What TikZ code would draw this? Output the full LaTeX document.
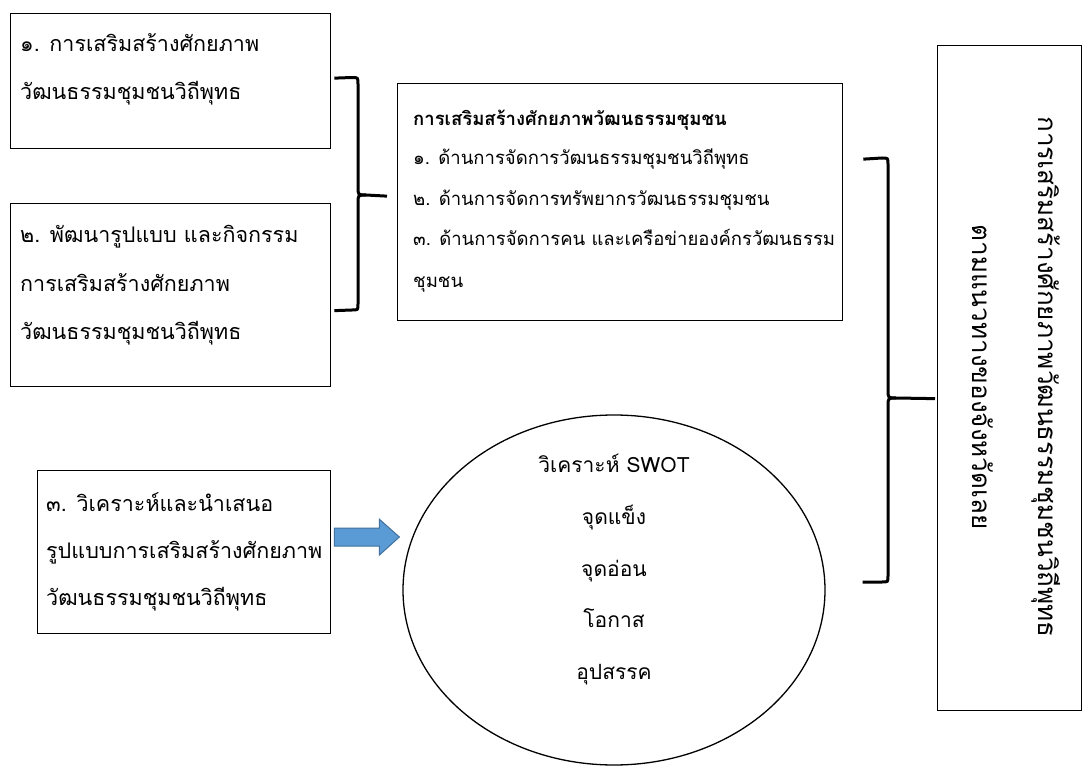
\documentclass[tikz,border=0pt]{standalone}
\usepackage{fontspec}
\setmainfont[Script=Thai]{Loma}
\usetikzlibrary{calc,shapes.geometric}
\tikzset{
  box/.style={draw=black, line width=1.3pt, anchor=north west, inner sep=0pt},
  txt/.style={anchor=west, inner sep=0pt, text height=16pt, text depth=6pt, font=\fontsize{21.5}{24}\selectfont},
  midtxt/.style={anchor=west, inner sep=0pt, text height=14pt, text depth=5pt, font=\fontsize{18.5}{22}\selectfont},
  elltxt/.style={anchor=center, inner sep=0pt, text height=16pt, text depth=6pt, font=\fontsize{21}{24}\selectfont},
  vtxt/.style={anchor=center, inner sep=0pt, rotate=-90, font=\fontsize{26}{30}\selectfont},
  brace/.style={draw=black, line width=3pt},
  bluearrow/.style={fill=arrowblue, draw=arrowedge, line width=1pt},
}
\definecolor{arrowblue}{HTML}{5B9BD5}
\definecolor{arrowedge}{HTML}{41719C}
\begin{document}
\begin{tikzpicture}[x=1pt,y=-1pt]
\useasboundingbox[fill=white] (0,0) rectangle (1082,767);

% boxes
\node[box, minimum width=320pt, minimum height=135pt] (b1) at (10,13) {};
\node[box, minimum width=320pt, minimum height=183pt] (b2) at (10,203) {};
\node[box, minimum width=293pt, minimum height=163pt] (b3) at (37,470) {};
\node[box, minimum width=445pt, minimum height=237pt] (mid) at (397,83) {};
\node[box, minimum width=144pt, minimum height=665pt] (rb) at (937,45) {};
\node[draw=black, line width=1.3pt, ellipse, minimum width=422pt, minimum height=350pt, inner sep=0pt] (ell) at (614,590) {};

% box texts
\node[txt] (t11) at (20,47) {๑. การเสริมสร้างศักยภาพ};
\node[txt] (t12) at (20,95) {วัฒนธรรมชุมชนวิถีพุทธ};
\node[txt] (t21) at (20,238) {๒. พัฒนารูปแบบ และกิจกรรม};
\node[txt] (t22) at (20,287) {การเสริมสร้างศักยภาพ};
\node[txt] (t23) at (20,335) {วัฒนธรรมชุมชนวิถีพุทธ};
\node[txt] (t31) at (46,506) {๓. วิเคราะห์และนำเสนอ};
\node[txt] (t32) at (46,553) {รูปแบบการเสริมสร้างศักยภาพ};
\node[txt] (t33) at (46,600) {วัฒนธรรมชุมชนวิถีพุทธ};

% middle box texts
\node[midtxt, font=\fontsize{18.5}{22}\selectfont\bfseries] (m0) at (413,121) {การเสริมสร้างศักยภาพวัฒนธรรมชุมชน};
\node[midtxt] (m1) at (413,160) {๑. ด้านการจัดการวัฒนธรรมชุมชนวิถีพุทธ};
\node[midtxt] (m2) at (413,201) {๒. ด้านการจัดการทรัพยากรวัฒนธรรมชุมชน};
\node[midtxt] (m3) at (413,241) {๓. ด้านการจัดการคน และเครือข่ายองค์กรวัฒนธรรม};
\node[midtxt] (m4) at (413,283) {ชุมชน};

% ellipse texts
\node[elltxt] (e1) at (614,467) {วิเคราะห์ SWOT};
\node[elltxt] (e2) at (614,519) {จุดแข็ง};
\node[elltxt] (e3) at (614,571) {จุดอ่อน};
\node[elltxt] (e4) at (614,622) {โอกาส};
\node[elltxt] (e5) at (614,674) {อุปสรรค};

% vertical texts in right box
\node[vtxt] (v1) at (1046,377) {การเสริมสร้างศักยภาพวัฒนธรรมชุมชนวิถีพุทธ};
\node[vtxt] (v2) at (983,377) {ตามแนวทางของจังหวัดเลย};

% brace 1 (boxes 1,2 -> middle box)
\draw[brace] ($(b1.east)+(3,-3)$) -- (352,77.5) .. controls (358,77.5) .. (358,84)
  -- (358,187) .. controls (358,195) .. (366,195) -- ($(mid.west)+(-10,-6)$);
\draw[brace] (366,195) .. controls (358,195) .. (358,203) -- (358,304)
  .. controls (358,310) .. (352,310) -- ($(b2.east)+(3,15.5)$);

% brace 2 (middle box, ellipse -> right box)
\draw[brace] ($(mid.east)+(20,-43)$) -- (882,158) .. controls (888,158) .. (888,164)
  -- (888,390) .. controls (888,398) .. (896,398) -- ($(rb.west)+(-2,20.5)$);
\draw[brace] (896,398) .. controls (888,398) .. (888,406) -- (888,576)
  .. controls (888,582) .. (882,582) -- ($(ell.east)+(37,-8)$);

% block arrow (box 3 -> ellipse)
\coordinate (as) at ($(b3.east)+(3,-15)$);
\coordinate (ae) at ($(ell.west)+(-3,-53)$);
\draw[bluearrow] (as) ++(0,-9) -- ++(45,0) -- ++(0,-9) -- (ae) -- ($(as)+(45,18)$) -- ++(0,-9) -- ++(-45,0) -- cycle;
\end{tikzpicture}
\end{document}
